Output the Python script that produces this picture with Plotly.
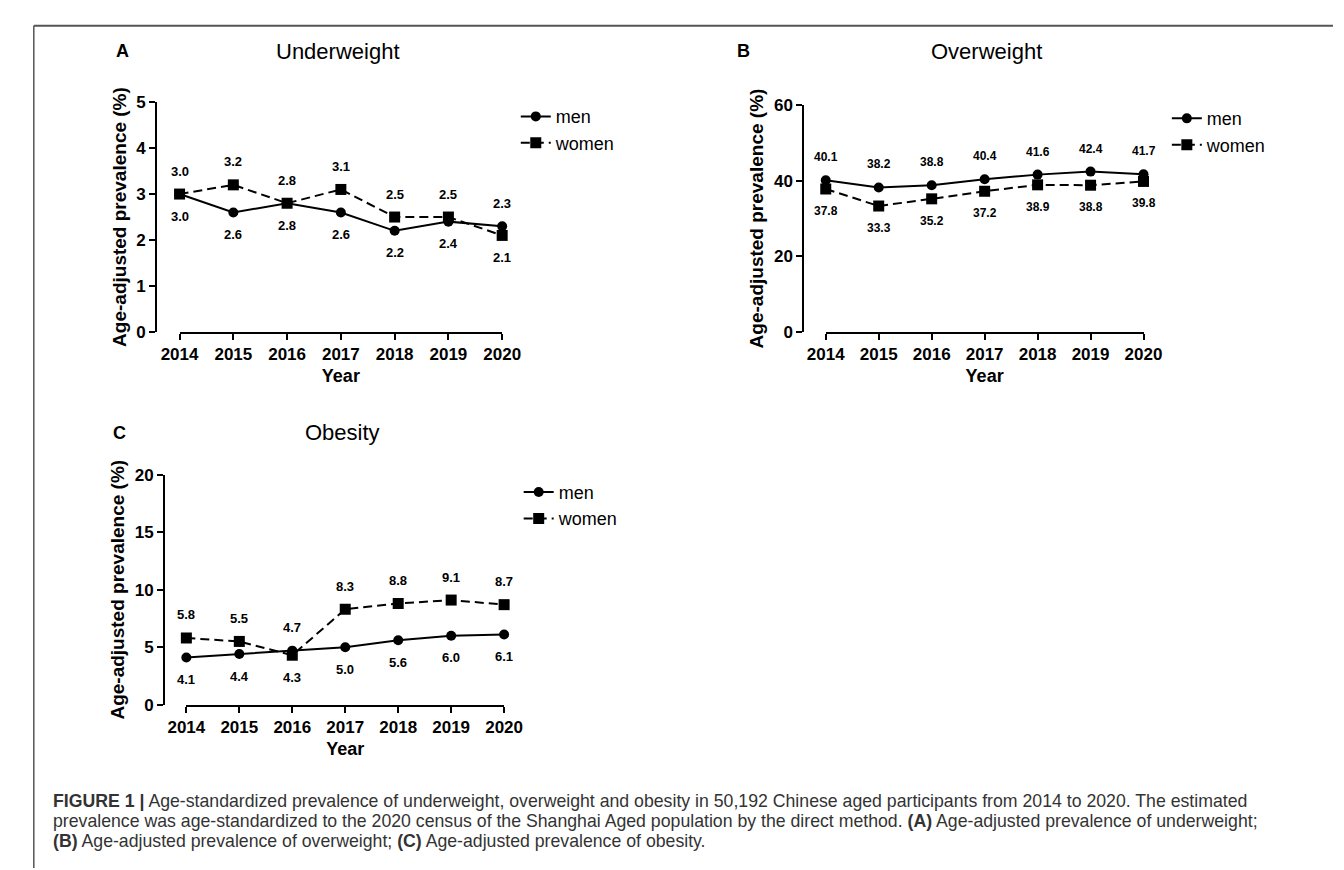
import plotly.graph_objects as go

W, H = 1344, 870

years = [2014, 2015, 2016, 2017, 2018, 2019, 2020]
year_labels = [str(y) for y in years]

under_men = [3.0, 2.6, 2.8, 2.6, 2.2, 2.4, 2.3]
under_women = [3.0, 3.2, 2.8, 3.1, 2.5, 2.5, 2.1]
over_men = [40.1, 38.2, 38.8, 40.4, 41.6, 42.4, 41.7]
over_women = [37.8, 33.3, 35.2, 37.2, 38.9, 38.8, 39.8]
obese_men = [4.1, 4.4, 4.7, 5.0, 5.6, 6.0, 6.1]
obese_women = [5.8, 5.5, 4.3, 8.3, 8.8, 9.1, 8.7]

panel_titles = ["Underweight", "Overweight", "Obesity"]
panel_letters = ["A", "B", "C"]
y_ticks = [[0, 1, 2, 3, 4, 5], [0, 20, 40, 60], [0, 5, 10, 15, 20]]
y_ranges = [[0, 5], [0, 60], [0, 20]]

caption_lines = [
    "<b>FIGURE 1 |</b> Age-standardized prevalence of underweight, overweight and obesity in 50,192 Chinese aged participants from 2014 to 2020. The estimated",
    "prevalence was age-standardized to the 2020 census of the Shanghai Aged population by the direct method. <b>(A)</b> Age-adjusted prevalence of underweight;",
    "<b>(B)</b> Age-adjusted prevalence of overweight; <b>(C)</b> Age-adjusted prevalence of obesity.",
]

FONT = "Liberation Sans, Arial, Helvetica, sans-serif"

def px(x):
    return x / W

def py(y):
    return 1 - y / H

# layout geometry (pixels)
panels = [
    dict(x0=157, x1=489, ytop=87, ybot=322, yaxis_x=133, leg_x=503, leg_y=83,
         title_x=320, title_y=35, letter_x=98, lab_size=13),
    dict(x0=822, x1=1149, ytop=90, ybot=322, yaxis_x=799, leg_x=1173, leg_y=85,
         title_x=987, title_y=35, letter_x=737, lab_size=12),
    dict(x0=164, x1=491, ytop=468, ybot=703, yaxis_x=141, leg_x=506, leg_y=467,
         title_x=325, title_y=425, letter_x=95, lab_size=13),
]
data = [(under_men, under_women), (over_men, over_women), (obese_men, obese_women)]

fig = go.Figure()
annotations = []
layout = {}

for i, (p, (men, women)) in enumerate(zip(panels, data)):
    n = "" if i == 0 else str(i + 1)
    xa, ya = "x" + n, "y" + n
    leg = "legend" + n
    fig.add_trace(go.Scatter(
        x=years, y=men, name="men", mode="lines+markers", xaxis=xa, yaxis=ya,
        line=dict(color="black", width=2),
        marker=dict(symbol="circle", size=10, color="black"),
        cliponaxis=False, legend=leg))
    fig.add_trace(go.Scatter(
        x=years, y=women, name="women", mode="lines+markers", xaxis=xa, yaxis=ya,
        line=dict(color="black", width=2, dash="9px,5px"),
        marker=dict(symbol="square", size=11, color="black"),
        cliponaxis=False, legend=leg))

    layout["xaxis" + n] = dict(
        domain=[px(p["x0"]), px(p["x1"])], range=[2014, 2020], anchor=ya,
        tickmode="array", tickvals=years, ticktext=year_labels,
        showline=True, linecolor="black", linewidth=2,
        ticks="outside", ticklen=6, tickwidth=2, tickcolor="black",
        showgrid=False, zeroline=False,
        tickfont=dict(family=FONT, size=17, color="black", weight="bold"),
        title=dict(text="Year", font=dict(family=FONT, size=18, color="black", weight="bold"), standoff=6),
    )
    layout["yaxis" + n] = dict(
        domain=[py(p["ybot"]), py(p["ytop"])], range=y_ranges[i],
        anchor="free", position=px(p["yaxis_x"]),
        tickmode="array", tickvals=y_ticks[i],
        showline=True, linecolor="black", linewidth=2,
        ticks="outside", ticklen=6, tickwidth=2, tickcolor="black",
        showgrid=False, zeroline=False,
        tickfont=dict(family=FONT, size=17, color="black", weight="bold"),
        title=dict(text="Age-adjusted prevalence (%)",
                   font=dict(family=FONT, size=19, color="black", weight="bold"), standoff=4),
    )
    layout[leg] = dict(
        x=px(p["leg_x"]), y=py(p["leg_y"]), xanchor="left", yanchor="top",
        bgcolor="rgba(0,0,0,0)", borderwidth=0,
        font=dict(family=FONT, size=18, color="black"),
    )

    # value labels: the higher series is labelled above, the lower below
    for k in range(len(years)):
        for series, other, is_women in ((men, women, False), (women, men, True)):
            v, o = series[k], other[k]
            above = v > o or (v == o and is_women)
            annotations.append(dict(
                x=years[k], y=v, xref=xa, yref=ya, text=f"{v:.1f}", showarrow=False,
                yshift=23 if above else -22,
                font=dict(family=FONT, size=p["lab_size"], color="black", weight="bold")))

    annotations.append(dict(
        x=px(p["title_x"]), y=py(p["title_y"]), xref="paper", yref="paper",
        text=panel_titles[i], showarrow=False, xanchor="center", yanchor="middle",
        font=dict(family=FONT, size=22, color="black")))
    annotations.append(dict(
        x=px(p["letter_x"]), y=py(p["title_y"]), xref="paper", yref="paper",
        text=f"<b>{panel_letters[i]}</b>", showarrow=False, xanchor="center", yanchor="middle",
        font=dict(family=FONT, size=18, color="black")))

for j, line in enumerate(caption_lines):
    annotations.append(dict(
        x=px(25), y=py(802 + 20 * j), xref="paper", yref="paper", text=line, showarrow=False,
        xanchor="left", yanchor="middle", align="left",
        font=dict(family=FONT, size=17.7, color="#333333")))

shapes = [
    dict(type="line", xref="paper", yref="paper", x0=px(7), x1=1, y0=py(9), y1=py(9),
         line=dict(color="#555555", width=2)),
    dict(type="line", xref="paper", yref="paper", x0=px(7), x1=px(7), y0=py(9), y1=0,
         line=dict(color="#555555", width=1.5)),
]

fig.update_layout(
    width=W, height=H, margin=dict(l=0, r=0, t=0, b=0),
    paper_bgcolor="white", plot_bgcolor="white",
    showlegend=True, annotations=annotations, shapes=shapes,
    font=dict(family=FONT, color="black"),
    **layout,
)

fig.write_html("out.html")
